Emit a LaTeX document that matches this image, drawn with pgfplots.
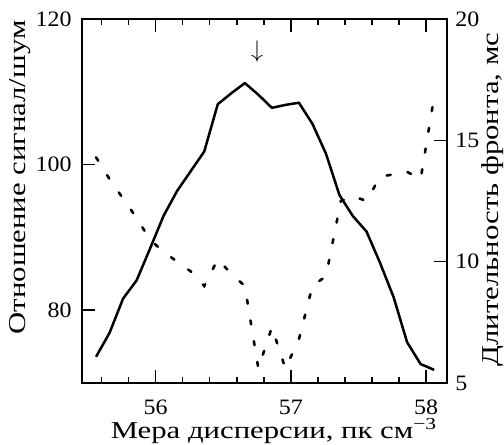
\documentclass[border=0pt]{standalone}
\usepackage{pgfplots}
\pgfplotsset{compat=1.18}
\usepackage{pgfplotstable}
\usepackage{fontspec}
\setmainfont{Liberation Serif}
\newfontfamily\labelfont[FakeStretch=1.27]{Liberation Serif}
\newfontfamily\tickfont[FakeStretch=1.09]{Liberation Serif}

% signal-to-noise (left axis)
\pgfplotstableread{
x y
55.56 73.6
55.66 76.9
55.76 81.6
55.86 84.1
55.96 88.5
56.06 93.0
56.16 96.4
56.26 99.1
56.36 101.8
56.46 108.3
56.56 109.8
56.66 111.2
56.76 109.6
56.86 107.8
56.96 108.2
57.06 108.5
57.16 105.6
57.26 101.5
57.36 95.8
57.46 92.9
57.56 90.8
57.66 86.5
57.76 81.8
57.86 75.6
57.96 72.6
58.06 71.8
}\snr

% front duration (right axis)
\pgfplotstableread{
x y
55.56 14.3
55.66 13.4
55.76 12.6
55.86 11.8
55.96 10.9
56.06 10.4
56.16 10.0
56.26 9.6
56.36 9.0
56.46 10.1
56.56 9.5
56.66 9.0
56.76 5.6
56.86 7.3
56.96 5.6
57.06 6.8
57.16 9.0
57.26 9.4
57.37 12.5
57.46 12.7
57.56 12.5
57.66 13.5
57.76 13.6
57.86 13.7
57.96 13.4
58.06 16.8
}\front

\begin{document}
\fontsize{12bp}{14bp}\selectfont
\begin{tikzpicture}
\pgfplotsset{
  common/.style={
    width=182.5bp, height=182bp, scale only axis,
    xmin=55.456, xmax=58.155,
    axis line style={line width=1bp},
    every tick/.style={black, line width=0.8bp},
    major tick length=6.7bp, minor tick length=3bp,
    tick align=inside,
    /pgf/number format/assume math mode=true,
    tick label style={font=\tickfont\fontsize{11bp}{13bp}\selectfont, inner sep=0pt},
    label style={font=\labelfont\fontsize{12.1bp}{14bp}\selectfont, inner sep=0pt},
  }
}
\begin{axis}[common,
  ymin=70, ymax=120,
  xtick={56,57,58},
  minor xtick={55.6,55.8,56.2,56.4,56.6,56.8,57.2,57.4,57.6,57.8},
  xtick pos=both, ytick pos=left,
  ytick={80,100,120},
  xticklabel style={anchor=base, yshift=-15.75bp},
  yticklabel style={anchor=east, xshift=-5bp},
  xlabel={Мера дисперсии, пк см\textsuperscript{−3}},
  ylabel={Отношение сигнал/шум},
  xlabel style={at={(axis description cs:0.526,-0.1525)}, anchor=base},
  ylabel style={at={(axis description cs:-0.170,0.565)}, anchor=center},
]
\addplot[black, line width=1.25bp, line join=round] table {\snr};
\node at (axis cs:56.75,115.6) {$\downarrow$};
\end{axis}
\begin{axis}[common,
  ymin=5, ymax=20,
  axis x line=none, axis y line*=right,
  ytick={5,10,15,20},
  yticklabel style={anchor=west, xshift=4bp},
  ylabel={Длительность фронта, мс},
  ylabel style={at={(axis description cs:1.125,0.504)}, anchor=center},
]
\addplot[black, line width=1.3bp, line cap=round, dash pattern=on 2bp off 8.5bp] table {\front};
\end{axis}
\pgfresetboundingbox
\path (-41bp,-31bp) rectangle (211bp,191.5bp);
\end{tikzpicture}
\end{document}
